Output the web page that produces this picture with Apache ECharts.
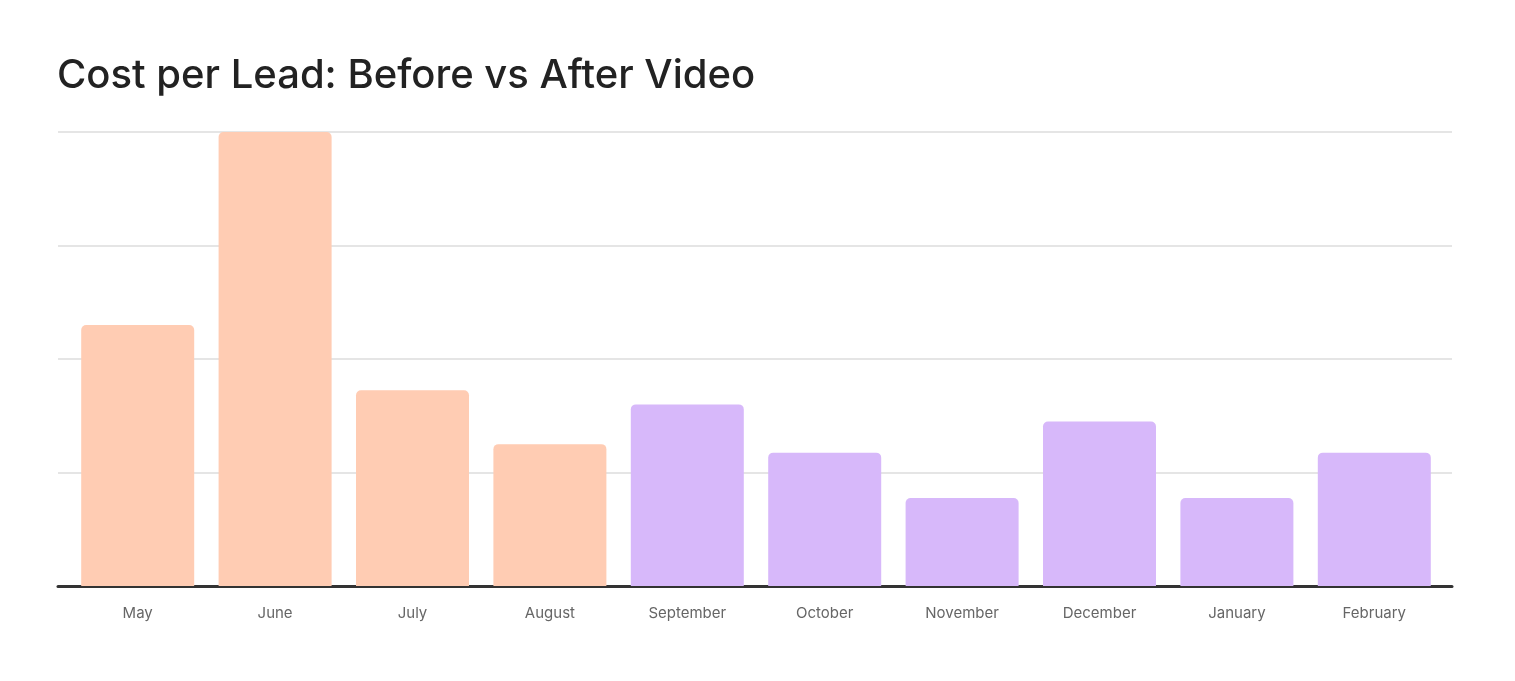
<!DOCTYPE html>
<html>
<head>
<meta charset="utf-8">
<style>
  html, body { margin: 0; padding: 0; background: #fff; }
  #chart { width: 1515px; height: 681px; }
</style>
<script src="https://cdn.jsdelivr.net/npm/echarts@6/dist/echarts.min.js"></script>
</head>
<body>
<div id="chart"></div>
<script>
var months = ['May', 'June', 'July', 'August', 'September', 'October', 'November', 'December', 'January', 'February'];
var costPerLead = [46, 80, 34.5, 25, 32, 23.5, 15.5, 29, 15.5, 23.5];
var beforeCount = 4; // first four months are before the video
var beforeColor = '#FFCCB3';
var afterColor = '#D7B8FA';

var myChart = echarts.init(document.getElementById('chart'));

var barData = costPerLead.map(function (v, i) {
	return {
		value: v,
		itemStyle: { color: i < beforeCount ? beforeColor : afterColor }
	};
});

/* grid 0 carries the gridlines + baseline, grid 1 the bars (a bit inset) */
var option = {
	backgroundColor: '#fff',
	animation: false,
	title: {
		text: 'Cost per Lead: Before vs After Video',
		left: 52,
		top: 51,
		textStyle: {
			fontFamily: 'Inter',
			fontSize: 40,
			fontWeight: 500,
			color: '#222'
		}
	},
	grid: [
		{ left: 58, right: 63, top: 132, bottom: 95 },
		{ left: 69, right: 72, top: 132, bottom: 95 }
	],
	xAxis: [{
		type: 'category',
		gridIndex: 0,
		data: months,
		axisLine: { lineStyle: { color: '#333', width: 3 } },
		axisTick: { show: false },
		axisLabel: { show: false }
	}, {
		type: 'category',
		gridIndex: 1,
		data: months,
		axisLine: { show: false },
		axisTick: { show: false },
		axisLabel: {
			color: '#666',
			fontFamily: 'Inter',
			fontSize: 15,
			margin: 20
		}
	}],
	yAxis: [{
		type: 'value',
		gridIndex: 0,
		min: 0,
		max: 80,
		interval: 20,
		axisLabel: { show: false },
		axisLine: { show: false },
		axisTick: { show: false },
		splitLine: { lineStyle: { color: '#dcdcdc', width: 1.5 } }
	}, {
		type: 'value',
		gridIndex: 1,
		min: 0,
		max: 80,
		interval: 20,
		show: false,
		splitLine: { show: false }
	}],
	series: [{
		type: 'bar',
		xAxisIndex: 1,
		yAxisIndex: 1,
		data: barData,
		barWidth: 113,
		z: 1,
		itemStyle: { borderRadius: [5, 5, 0, 0] }
	}]
};

myChart.setOption(option);
</script>
</body>
</html>
